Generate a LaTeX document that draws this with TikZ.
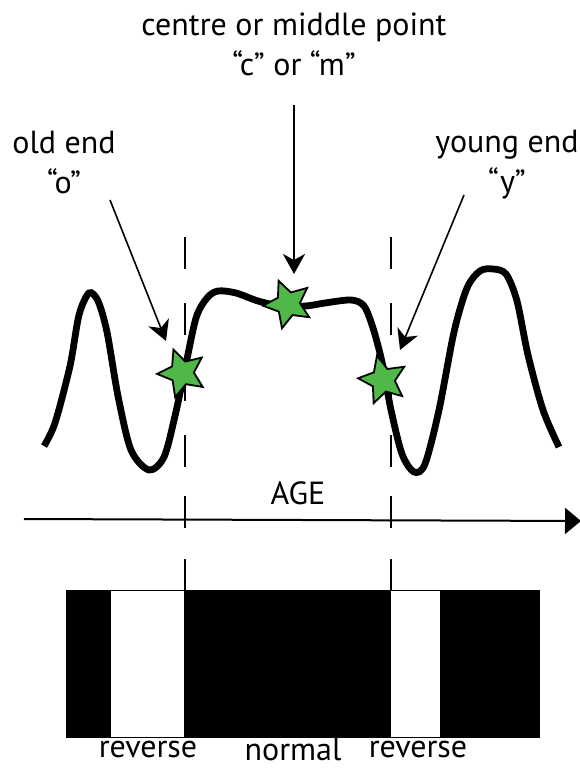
\documentclass[tikz,border=0pt]{standalone}
\usepackage{fontspec}
\setmainfont{PT Sans}
\usepackage{tikz}
\usetikzlibrary{arrows.meta,shapes.geometric}
\definecolor{stargreen}{RGB}{80,184,72}

\begin{document}
\begin{tikzpicture}[x=0.5pt, y=-0.5pt, font=\fontsize{16}{20}\selectfont]
		\tikzset{gstar/.style={star, star points=5, star point ratio=2.1, minimum size=25pt, inner sep=0pt, draw=black, line width=0.9pt, fill=stargreen}}
		\tikzset{ptr/.style={-{Stealth[length=10pt, width=11pt, inset=3pt]}, line width=0.8pt}}
		\tikzset{guide/.style={line width=0.6pt, dash pattern=on 16pt off 17pt}}
		\tikzset{barlbl/.style={anchor=base, inner sep=1pt}}
		\useasboundingbox (0,0) rectangle (579,769);
		% labels at the top
		\node[align=center] (midLbl) at (294,44) {centre or middle point\\“c” or “m”};
		\node[align=center] (oldLbl) at (64,162) {old end\\“o”};
		\node[align=center] (youngLbl) at (507,165) {young end\\“y”};
		% the curve
		\draw[line width=3.4pt] plot[smooth, tension=0.5] coordinates {(44,446) (55,423) (70,366) (79,315) (89,293) (98,301) (107,332) (118,396) (131,450) (149,470) (164,457) (175,416) (185,369) (196,318) (207,298) (218,291) (236,293) (258,301) (281,306) (306,306) (325,303) (351,300) (364,306) (373,328) (382,362) (391,410) (402,454) (414,472) (425,464) (439,410) (454,332) (467,288) (480,271) (493,269) (506,274) (517,301) (528,355) (543,410) (559,447)};
		% guide lines
		\draw[guide] (185,237) -- (185,470);
		\draw[guide] (391,237) -- (391,470);
		% stars
		\node[gstar, rotate=20] (oldStar) at (182,373) {};
		\node[gstar, rotate=22] (midStar) at (288,304) {};
		\node[gstar, rotate=14] (youngStar) at (383,380) {};
		% pointers
		\coordinate (oStart) at (110,200); \coordinate (oTip) at (166,341);
		\coordinate (mStart) at (294,105); \coordinate (mTip) at (294,274);
		\coordinate (yStart) at (464,195); \coordinate (yTip) at (400,350);
		\draw[ptr] (oStart) -- (oTip);
		\draw[ptr, line width=1pt] (mStart) -- (mTip);
		\draw[ptr] (yStart) -- (yTip);
		% age axis
		\coordinate (axL) at (24,519); \coordinate (axR) at (581,521);
		\draw[line width=1pt, -{Triangle[length=8pt, width=13pt]}] (axL) -- (axR);
		\node[anchor=base] (ageLbl) at (298,504) {AGE};
		\draw[line width=0.6pt] (185,496) -- (185,528) (185,559) -- (185,590);
		\draw[line width=0.6pt] (391,496) -- (391,528) (391,559) -- (391,590);
		% polarity bar
		\fill (66,590) rectangle (539,737);
		\fill[white] (111,590) rectangle (184,737);
		\fill[white] (391,590) rectangle (440,737);
		\draw[line width=0.5pt] (66,590) rectangle (539,737);
		\node[barlbl] (revL) at (148,757) {reverse};
		\node[barlbl] (normLbl) at (293,760) {normal};
		\node[barlbl] (revR) at (418,757) {reverse};
	\end{tikzpicture}
\end{document}
